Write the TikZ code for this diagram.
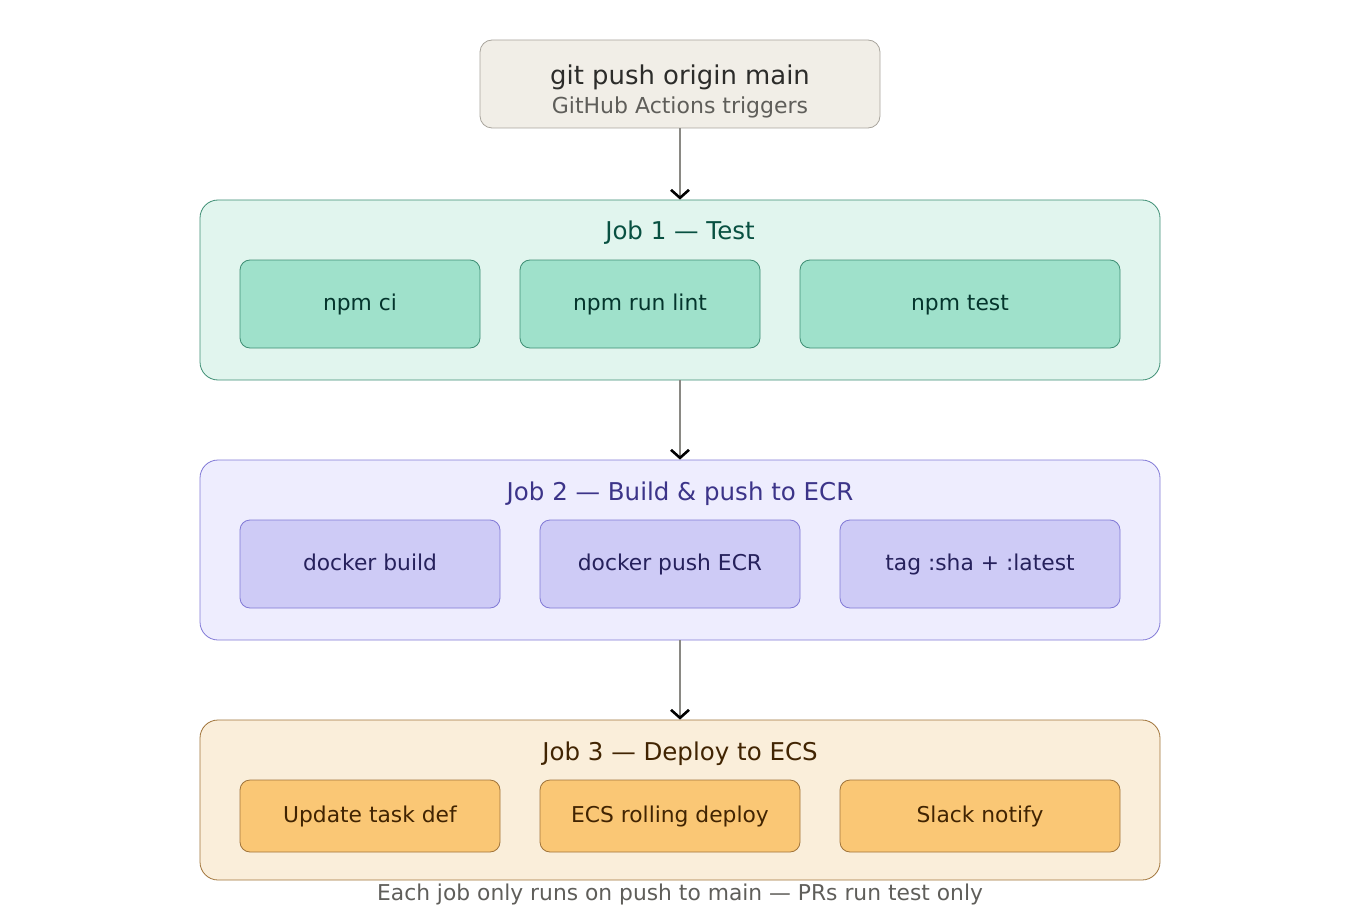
\documentclass[tikz,border=0pt]{standalone}
\usepackage{fontspec}
\setmainfont{DejaVu Sans}
\usetikzlibrary{arrows.meta}
\definecolor{topfill}{HTML}{F1EEE7}
\definecolor{topdraw}{HTML}{A8A49C}
\definecolor{toptext}{HTML}{2C2C2A}
\definecolor{subtext}{HTML}{5F5E5A}
\definecolor{aFill}{HTML}{E1F5EE}
\definecolor{aDraw}{HTML}{3E8E74}
\definecolor{aTitle}{HTML}{085041}
\definecolor{aStep}{HTML}{9FE1CB}
\definecolor{aText}{HTML}{04342C}
\definecolor{bFill}{HTML}{EEEDFE}
\definecolor{bDraw}{HTML}{8179D6}
\definecolor{bTitle}{HTML}{3C3489}
\definecolor{bStep}{HTML}{CECBF6}
\definecolor{bText}{HTML}{26215C}
\definecolor{cFill}{HTML}{FAEEDA}
\definecolor{cDraw}{HTML}{A0743A}
\definecolor{cTitle}{HTML}{412402}
\definecolor{cStep}{HTML}{FAC775}
\definecolor{cText}{HTML}{412402}
\definecolor{arrgray}{HTML}{8A8984}
\tikzset{
  box/.style={rectangle, rounded corners=#1, inner sep=0pt, line width=0.8pt},
  jobtitle/.style={font=\fontsize{24.5}{29}\selectfont, inner sep=0pt, anchor=base},
  steptext/.style={font=\fontsize{21.8}{26}\selectfont, text height=16pt, text depth=3pt},
  flow/.style={color=arrgray, line width=2.6pt, arrows={-Straight Barb[color=black, length=8pt, width=18pt]}}
}
\begin{document}
\begin{tikzpicture}[x=1pt,y=-1pt]
\useasboundingbox (0,0) rectangle (1360,920);
% top trigger
\node[box=12pt, draw=topdraw, fill=topfill, minimum width=400pt, minimum height=88pt] (top) at (680,84) {};
\node[inner sep=0pt, anchor=base, text=toptext, font=\fontsize{25.9}{30}\selectfont] (toptitle) at (680,85) {git push origin main};
\node[inner sep=0pt, anchor=base, text=subtext, font=\fontsize{22}{26}\selectfont] (topsub) at (680,114) {GitHub Actions triggers};
% job 1
\node[box=18pt, draw=aDraw, fill=aFill, minimum width=960pt, minimum height=180pt] (job1) at (680,290) {};
\node[jobtitle, text=aTitle] (job1t) at (680,240) {Job 1 — Test};
\node[box=10pt, draw=aDraw, fill=aStep, text=aText, steptext, minimum width=240pt, minimum height=88pt] (a1) at (360,304) {npm ci};
\node[box=10pt, draw=aDraw, fill=aStep, text=aText, steptext, minimum width=240pt, minimum height=88pt] (a2) at (640,304) {npm run lint};
\node[box=10pt, draw=aDraw, fill=aStep, text=aText, steptext, minimum width=320pt, minimum height=88pt] (a3) at (960,304) {npm test};
% job 2
\node[box=18pt, draw=bDraw, fill=bFill, minimum width=960pt, minimum height=180pt] (job2) at (680,550) {};
\node[jobtitle, text=bTitle] (job2t) at (680,500) {Job 2 — Build \& push to ECR};
\node[box=10pt, draw=bDraw, fill=bStep, text=bText, steptext, minimum width=260pt, minimum height=88pt] (b1) at (370,564) {docker build};
\node[box=10pt, draw=bDraw, fill=bStep, text=bText, steptext, minimum width=260pt, minimum height=88pt] (b2) at (670,564) {docker push ECR};
\node[box=10pt, draw=bDraw, fill=bStep, text=bText, steptext, minimum width=280pt, minimum height=88pt] (b3) at (980,564) {tag :sha + :latest};
% job 3
\node[box=18pt, draw=cDraw, fill=cFill, minimum width=960pt, minimum height=160pt] (job3) at (680,800) {};
\node[jobtitle, text=cTitle] (job3t) at (680,760) {Job 3 — Deploy to ECS};
\node[box=10pt, draw=cDraw, fill=cStep, text=cText, steptext, minimum width=260pt, minimum height=72pt] (c1) at (370,816) {Update task def};
\node[box=10pt, draw=cDraw, fill=cStep, text=cText, steptext, minimum width=260pt, minimum height=72pt] (c2) at (670,816) {ECS rolling deploy};
\node[box=10pt, draw=cDraw, fill=cStep, text=cText, steptext, minimum width=280pt, minimum height=72pt] (c3) at (980,816) {Slack notify};
% footer
\node[inner sep=0pt, anchor=base, text=subtext, font=\fontsize{21.8}{26}\selectfont] (foot) at (680,900) {Each job only runs on push to main — PRs run test only};
% connectors
\draw[flow] (top.south) -- (job1.north);
\draw[flow] (job1.south) -- (job2.north);
\draw[flow] (job2.south) -- (job3.north);
\end{tikzpicture}
\end{document}
